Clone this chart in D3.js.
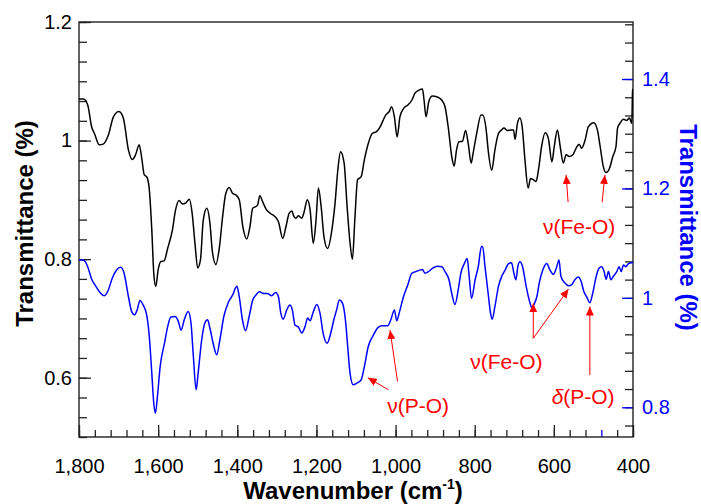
<!DOCTYPE html>
<html><head><meta charset="utf-8">
<script src="https://cdn.jsdelivr.net/npm/d3@7"></script>
<style>body{margin:0;background:#fff}svg{display:block}</style>
</head><body><svg id="c" width="701" height="504"></svg>
<script>
// ---- data ----
const xTickLabels = [1800, 1600, 1400, 1200, 1000, 800, 600, 400];
const yLeftTicks = [0.6, 0.8, 1.0, 1.2];
const yRightTicks = [0.8, 1.0, 1.2, 1.4];

// black spectrum (left axis)
const wnBlack = [1800,1789,1778,1768,1761,1749,1739,1726,1713,1699,
1688,1675,1665,1657,1648,1642,1635,1629,1623,1616,
1611,1606,1600,1593,1585,1576,1564,1556,1547,1539,
1530,1521,1514,1507,1500,1493,1486,1477,1469,1463,
1454,1445,1437,1429,1420,1412,1403,1395,1386,1376,
1368,1361,1355,1349,1343,1336,1327,1316,1305,1296,
1285,1277,1269,1262,1257,1252,1246,1237,1231,1223,
1216,1208,1201,1195,1188,1181,1172,1161,1153,1146,
1139,1130,1123,1115,1109,1103,1096,1087,1079,1069,
1059,1048,1039,1031,1025,1016,1010,1003,996,989,
980,969,959,951,941,932,928,923,916,907,
896,883,875,867,858,852,846,840,831,823,
816,809,804,795,784,780,771,766,757,749,
740,732,726,718,709,702,698,692,686,680,
673,665,659,652,645,639,631,622,614,605,
599,591,584,576,569,561,552,544,536,530,
521,513,499,490,483,475,468,460,451,443,
439,433,424,416,409,403,401,400];
const tBlack = [1.070,1.070,1.060,1.023,1.012,0.993,0.994,1.009,1.040,1.049,
1.038,0.984,0.968,0.976,0.993,0.973,0.942,0.939,0.922,0.849,
0.776,0.754,0.782,0.796,0.797,0.818,0.849,0.883,0.899,0.893,
0.895,0.901,0.877,0.827,0.785,0.799,0.866,0.886,0.860,0.813,
0.791,0.821,0.872,0.911,0.921,0.911,0.908,0.900,0.855,0.834,
0.855,0.886,0.888,0.891,0.907,0.897,0.884,0.877,0.872,0.863,
0.835,0.855,0.877,0.881,0.872,0.869,0.873,0.869,0.880,0.900,
0.883,0.827,0.866,0.920,0.888,0.838,0.818,0.849,0.894,0.950,
0.981,0.962,0.894,0.827,0.800,0.866,0.934,0.939,0.967,0.995,
1.012,1.015,1.023,1.035,1.043,1.049,1.057,1.040,1.006,1.040,
1.054,1.060,1.068,1.080,1.085,1.087,1.068,1.040,1.066,1.075,
1.074,1.068,1.057,1.023,0.973,0.957,0.984,0.998,0.999,1.017,
0.993,0.962,0.979,1.012,1.043,1.043,1.018,0.984,0.950,0.984,
1.012,1.018,1.021,1.017,1.018,1.018,1.002,1.029,1.038,1.023,
0.967,0.920,0.936,0.934,0.931,0.950,0.990,1.013,1.004,0.964,
0.990,1.018,0.990,0.962,0.976,0.973,0.976,0.987,0.994,0.987,
1.001,1.023,1.030,1.018,0.990,0.956,0.946,0.952,0.973,0.990,
1.021,1.029,1.036,1.034,1.038,1.029,1.085,1.087];

// blue spectrum (right axis)
const wnBlue = [1800,1789,1778,1768,1758,1747,1736,1726,1716,1705,
1695,1686,1675,1667,1660,1653,1646,1638,1629,1623,
1616,1611,1607,1601,1595,1584,1576,1568,1557,1549,
1542,1534,1524,1517,1511,1504,1499,1490,1482,1475,
1469,1461,1452,1444,1434,1423,1412,1401,1395,1387,
1379,1370,1361,1353,1344,1334,1324,1313,1303,1296,
1290,1284,1275,1267,1261,1254,1246,1237,1229,1222,
1216,1209,1199,1191,1183,1173,1164,1156,1149,1142,
1134,1125,1121,1115,1107,1098,1087,1079,1069,1056,
1044,1034,1020,1012,1003,997,991,980,969,959,
949,932,926,917,907,894,883,875,865,858,
850,841,835,826,819,814,808,799,791,783,
780,774,766,760,756,749,740,732,723,715,
707,701,696,691,686,679,670,660,656,649,
643,637,628,618,610,601,593,587,582,572,
563,555,547,538,531,524,517,509,502,493,
486,479,473,468,462,456,450,441,435,430,
424,418,412,403,400];
const tBlue = [1.069,1.069,1.057,1.034,1.022,1.010,1.004,1.014,1.036,1.051,
1.056,1.045,1.002,0.975,0.969,0.978,0.995,0.987,0.969,0.935,
0.862,0.807,0.789,0.826,0.874,0.917,0.947,0.965,0.966,0.957,
0.941,0.960,0.975,0.954,0.893,0.832,0.862,0.923,0.954,0.960,
0.944,0.917,0.896,0.923,0.966,0.991,1.005,1.021,1.002,0.960,
0.940,0.966,0.996,1.005,1.011,1.008,1.008,1.004,1.010,1.002,
0.972,0.961,0.978,0.987,0.978,0.950,0.947,0.936,0.947,0.963,
0.958,0.972,0.988,0.972,0.935,0.917,0.935,0.960,0.978,0.996,
0.990,0.947,0.911,0.862,0.841,0.844,0.850,0.874,0.911,0.932,
0.946,0.949,0.949,0.960,0.978,0.958,0.972,1.002,1.024,1.045,
1.048,1.052,1.045,1.048,1.054,1.058,1.057,1.048,1.033,1.008,
0.988,1.018,1.045,1.063,1.072,1.039,0.999,1.033,1.057,1.094,
1.094,1.057,1.008,0.972,0.961,0.984,1.021,1.039,1.051,1.062,
1.064,1.045,1.033,1.057,1.066,1.057,1.021,0.990,0.982,0.990,
1.002,1.027,1.051,1.063,1.051,1.043,1.056,1.069,1.039,1.027,
1.022,1.024,1.033,1.038,1.030,1.011,1.002,0.991,1.008,1.039,
1.054,1.057,1.048,1.034,1.048,1.033,1.039,1.048,1.057,1.048,
1.060,1.057,1.062,1.064,1.064];

// annotations: label + arrows (tail -> tip) in data units (wavenumber, transmittance)
const annLabels = ["ν(Fe-O)", "ν(Fe-O)", "δ(P-O)", "ν(P-O)"];
const annAxis = ["left", "right", "right", "right"];
const annTextPos = [[536, 0.842], [720, 0.870], [526, 0.806], [943, 0.790]];
const annArrows = [
  [[[564, 0.896], [569, 0.942]], [[478, 0.896], [471, 0.942]]],
  [[[652, 0.926], [652, 0.990]], [[652, 0.926], [563, 1.016]]],
  [[[509, 0.859], [509, 0.984]]],
  [[[995, 0.847], [1014, 0.941]], [[1018, 0.832], [1070, 0.854]]]
];

// ---- drawing ----
const FONT = "'Liberation Sans', Arial, Helvetica, sans-serif";
const BLUE = "#0000ff", RED = "#ff0000";
const L = 79, R = 633, T = 22, B = 437;
const svg = d3.select("#c");

const x = d3.scaleLinear().domain([1800, 400]).range([L, R]);
const yL = d3.scaleLinear().domain([0.5, 1.2]).range([B, T]);
const yR = d3.scaleLinear().domain([0.7457, 1.5042]).range([B, T]);

const fmt = d3.format("~g");

// minor ticks
const gMinor = svg.append("g");
gMinor.append("g").attr("transform", `translate(0,${B})`)
  .call(d3.axisBottom(x).tickValues(d3.range(400, 1801, 40)).tickSize(-7).tickFormat(""));
gMinor.append("g").attr("transform", `translate(${L},0)`)
  .call(d3.axisLeft(yL).tickValues(d3.range(15, 37).map(i => i / 30)).tickSize(-8).tickFormat(""));
gMinor.append("g").attr("transform", `translate(${R},0)`)
  .call(d3.axisRight(yR).tickValues(d3.range(23, 46).map(i => i / 30)).tickSize(-8).tickFormat(""));
gMinor.selectAll(".domain").remove();
gMinor.selectAll("g g:last-child line").attr("stroke", null);

// major axes
const gx = svg.append("g").attr("transform", `translate(0,${B})`)
  .call(d3.axisBottom(x).tickValues(xTickLabels).tickFormat(d3.format(",")).tickSize(-12).tickPadding(22));
const gyl = svg.append("g").attr("transform", `translate(${L},0)`)
  .call(d3.axisLeft(yL).tickValues(yLeftTicks).tickFormat(fmt).tickSize(-12).tickPadding(7));
const gyr = svg.append("g").attr("transform", `translate(${R},0)`)
  .call(d3.axisRight(yR).tickValues(yRightTicks).tickFormat(fmt).tickSize(-11).tickPadding(9));
[gx, gyl, gyr].forEach(g => {
  g.select(".domain").remove();
  g.selectAll("text").attr("font-family", FONT).attr("font-size", 20).attr("fill", "#000");
  g.selectAll("line").attr("stroke", "#222").attr("stroke-width", 1.3);
});
gMinor.selectAll("line").attr("stroke", "#222").attr("stroke-width", 1.3);
gMinor.select("g:nth-child(3)").selectAll("line").attr("stroke", BLUE);
gyr.selectAll("line").attr("stroke", BLUE);
gyr.selectAll("text").attr("fill", BLUE);

// frame
svg.append("rect").attr("x", L).attr("y", T).attr("width", R - L).attr("height", B - T)
  .attr("fill", "none").attr("stroke", "#222").attr("stroke-width", 1.4);

// curves
svg.append("clipPath").attr("id", "clip").append("rect")
  .attr("x", L).attr("y", T).attr("width", R - L).attr("height", B - T);
const lineL = d3.line().x(d => x(d[0])).y(d => yL(d[1])).curve(d3.curveMonotoneX);
const lineR = d3.line().x(d => x(d[0])).y(d => yR(d[1])).curve(d3.curveMonotoneX);
svg.append("path").attr("clip-path", "url(#clip)")
  .attr("d", lineR(d3.zip(wnBlue, tBlue)))
  .attr("fill", "none").attr("stroke", BLUE).attr("stroke-width", 1.5).attr("stroke-linejoin", "round");
svg.append("path").attr("clip-path", "url(#clip)")
  .attr("d", lineL(d3.zip(wnBlack, tBlack)))
  .attr("fill", "none").attr("stroke", "#000").attr("stroke-width", 1.5).attr("stroke-linejoin", "round");

// arrow marker
svg.append("defs").append("marker").attr("id", "ah")
  .attr("markerUnits", "userSpaceOnUse").attr("markerWidth", 10).attr("markerHeight", 8)
  .attr("refX", 9).attr("refY", 4).attr("orient", "auto")
  .append("path").attr("d", "M0,0 L9,4 L0,8 Z").attr("fill", RED);

// annotations
annLabels.forEach((lab, i) => {
  const yS = annAxis[i] === "left" ? yL : yR;
  annArrows[i].forEach(a => {
    svg.append("line")
      .attr("x1", x(a[0][0])).attr("y1", yS(a[0][1]))
      .attr("x2", x(a[1][0])).attr("y2", yS(a[1][1]))
      .attr("stroke", RED).attr("stroke-width", 1).attr("marker-end", "url(#ah)");
  });
  const t = svg.append("text").attr("x", x(annTextPos[i][0])).attr("y", yS(annTextPos[i][1]))
    .attr("text-anchor", "middle").attr("font-family", FONT).attr("font-size", 21).attr("fill", RED);
  if (lab.startsWith("δ")) {
    t.append("tspan").attr("font-style", "italic").text("δ");
    t.append("tspan").text(lab.slice(1));
  } else {
    t.text(lab);
  }
});

// axis titles
svg.append("text").attr("x", (L + R) / 2 - 3).attr("y", 499).attr("text-anchor", "middle")
  .attr("font-family", FONT).attr("font-weight", "bold").attr("font-size", 24).attr("fill", "#000")
  .call(t => {
    t.append("tspan").text("Wavenumber (cm");
    t.append("tspan").attr("font-size", 14).attr("dy", -10).text("-1");
    t.append("tspan").attr("dy", 10).text(")");
  });
svg.append("text").attr("transform", "translate(33,223.5) rotate(-90)").attr("text-anchor", "middle")
  .attr("font-family", FONT).attr("font-weight", "bold").attr("font-size", 24).attr("fill", "#000")
  .text("Transmittance (%)");
svg.append("text").attr("transform", "translate(680,227.5) rotate(90)").attr("text-anchor", "middle")
  .attr("font-family", FONT).attr("font-weight", "bold").attr("font-size", 24).attr("fill", BLUE)
  .text("Transmittance (%)");
</script>
</body></html>
